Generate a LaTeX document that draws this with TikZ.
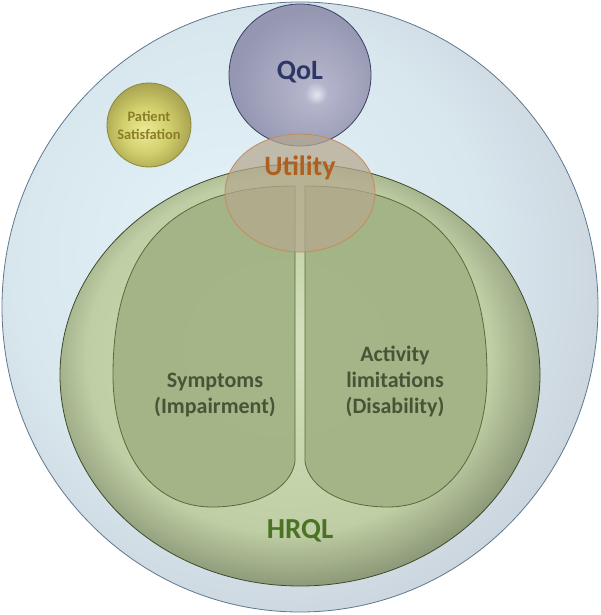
\documentclass[tikz,border=0pt]{standalone}
\usepackage{fontspec}
\setmainfont{Carlito}

\definecolor{skyA}{HTML}{E3F1F8}
\definecolor{skyB}{HTML}{D8E6EE}
\definecolor{skyC}{HTML}{C6CED7}
\definecolor{skyEdge}{HTML}{5F7890}
\definecolor{hrqA}{HTML}{D4E1BD}
\definecolor{hrqB}{HTML}{BFCEA4}
\definecolor{hrqC}{HTML}{737E62}
\definecolor{hrqEdge}{HTML}{3E4C2A}
\definecolor{lobeFill}{HTML}{A2B485}
\definecolor{lobeEdge}{HTML}{5A6A38}
\definecolor{qolA}{HTML}{E6E6F0}
\definecolor{qolB}{HTML}{B4B5CB}
\definecolor{qolC}{HTML}{9597B2}
\definecolor{qolEdge}{HTML}{3C4060}
\definecolor{utiFill}{HTML}{B5A88E}
\definecolor{utiEdge}{HTML}{C68A58}
\definecolor{patA}{HTML}{ECEB96}
\definecolor{patB}{HTML}{D2CF6C}
\definecolor{patC}{HTML}{ABA652}
\definecolor{patEdge}{HTML}{8A873C}
\definecolor{txtQol}{HTML}{2D3766}
\definecolor{txtUti}{HTML}{B0601E}
\definecolor{txtPat}{HTML}{8B7D27}
\definecolor{txtLobe}{HTML}{465537}
\definecolor{txtHrq}{HTML}{4C7226}

\pgfdeclareradialshading{skyshade}{\pgfpoint{-7bp}{6bp}}{color(0bp)=(skyA); color(20bp)=(skyB); color(33bp)=(skyC); color(50bp)=(skyC)}
\pgfdeclareradialshading{hrqshade}{\pgfpoint{-2bp}{4bp}}{color(0bp)=(hrqA); color(21bp)=(hrqB); color(30bp)=(hrqC); color(50bp)=(hrqC)}
\pgfdeclareradialshading{qolshade}{\pgfpoint{6bp}{-7bp}}{color(0bp)=(qolA); color(4bp)=(qolB); color(26bp)=(qolC); color(50bp)=(qolC)}
\pgfdeclareradialshading{patshade}{\pgfpoint{-3bp}{-4bp}}{color(0bp)=(patA); color(14bp)=(patB); color(26bp)=(patC); color(50bp)=(patC)}

\tikzset{
  lobe/.style={fill=lobeFill, fill opacity=0.95, draw=lobeEdge, line width=0.8pt},
  lbl/.style={font=\bfseries, align=center, inner sep=0pt},
}

\begin{document}
\begin{tikzpicture}[x=1pt, y=-1pt, line width=0.8pt]
  \useasboundingbox (0,0) rectangle (600,615);
  \coordinate (Csky) at (300,307);
  \coordinate (Chrq) at (300,375);
  \coordinate (Cqol) at (300,75);
  \coordinate (Cuti) at (300,193);
  \coordinate (Cpat) at (149,125);

  \shade[shading=skyshade] (Csky) ellipse [x radius=298, y radius=305];
  \draw[skyEdge] (Csky) ellipse [x radius=298, y radius=305];

  \shade[shading=hrqshade] (Chrq) ellipse [x radius=240, y radius=211];
  \draw[hrqEdge] (Chrq) ellipse [x radius=240, y radius=211];

  \draw[lobe] (295,186) -- (295,462) .. controls (290,490) and (255,507) .. (212,507)
    .. controls (150,507) and (113,450) .. (113,375)
    .. controls (113,250) and (170,186) .. (295,186) -- cycle;
  \draw[lobe] (305,186) -- (305,462) .. controls (310,490) and (345,507) .. (388,507)
    .. controls (450,507) and (487,450) .. (487,375)
    .. controls (487,250) and (430,186) .. (305,186) -- cycle;

  \shade[shading=patshade] (Cpat) circle [radius=42];
  \draw[patEdge] (Cpat) circle [radius=42];

  \shade[shading=qolshade] (Cqol) circle [radius=71];
  \draw[qolEdge] (Cqol) circle [radius=71];

  \fill[utiFill, fill opacity=0.72] (Cuti) ellipse [x radius=75, y radius=59];
  \draw[utiEdge] (Cuti) ellipse [x radius=75, y radius=59];

  \node[lbl, text=txtQol, font=\bfseries\fontsize{28}{32}\selectfont] (qol) at (300,72) {QoL};
  \node[lbl, text=txtUti, font=\bfseries\fontsize{28}{32}\selectfont] (uti) at (300,168) {Utility};
  \node[lbl, text=txtPat, font=\bfseries\fontsize{14.5}{18}\selectfont] (pat) at (Cpat) {Patient\\Satisfation};
  \node[lbl, text=txtLobe, font=\bfseries\fontsize{22}{26}\selectfont] (sym) at (215,395) {Symptoms\\(Impairment)};
  \node[lbl, text=txtLobe, font=\bfseries\fontsize{22}{26}\selectfont] (act) at (395,381) {Activity\\limitations\\(Disability)};
  \node[lbl, text=txtHrq, font=\bfseries\fontsize{29}{34}\selectfont] (hrq) at (300,531) {HRQL};
\end{tikzpicture}
\end{document}
